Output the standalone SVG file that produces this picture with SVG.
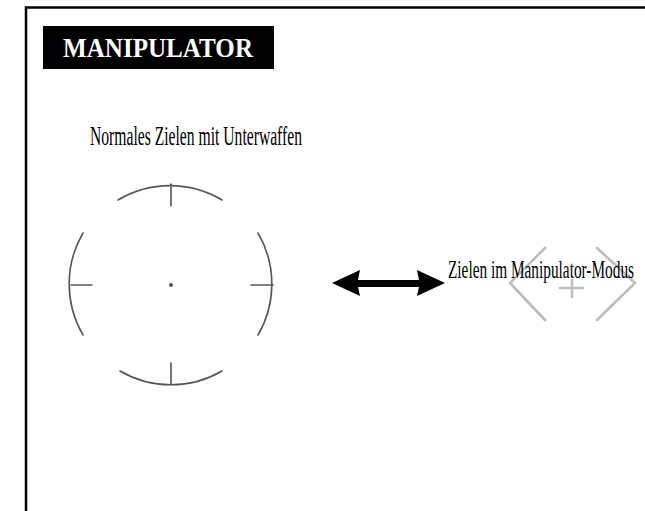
<svg xmlns="http://www.w3.org/2000/svg" width="645" height="511" viewBox="0 0 645 511">
<style>
.frame{fill:none;stroke:#000;stroke-width:2.5}
.reticle{fill:none;stroke:#555;stroke-width:1.6;stroke-linecap:round}
.reticle2{fill:none;stroke:#bdbdbd;stroke-width:2.6;stroke-linecap:round}
.lbl{font-family:"Liberation Serif","DejaVu Serif",serif;fill:#000}
.title{font-family:"Liberation Serif","DejaVu Serif",serif;font-weight:bold;fill:#fff}
</style>
<rect width="645" height="511" fill="#fff"/>
<path class="frame" d="M26,511 V7.5 H645"/>
<g id="title">
<rect x="43" y="26" width="231" height="43" fill="#000"/>
<text class="title" x="63" y="57" font-size="28" textLength="190" lengthAdjust="spacingAndGlyphs">MANIPULATOR</text>
</g>
<g id="label-normal">
<text class="lbl" x="90" y="145" font-size="27" textLength="212" lengthAdjust="spacingAndGlyphs">Normales Zielen mit Unterwaffen</text>
</g>
<g id="reticle-normal">
<path class="reticle" d="M118,200 A101,101 0 0 1 222,200 M171,184 V206"/>
<path class="reticle" d="M120,371 A101,101 0 0 0 222,371 M171,363 V385"/>
<path class="reticle" d="M83,233 A101,101 0 0 0 83,335 M71,285 H92"/>
<path class="reticle" d="M258,233 A101,101 0 0 1 258,335 M251,285 H273"/>
<circle cx="171" cy="285" r="2" fill="#555"/>
</g>
<g id="connectors">
<path d="M332,283 L360,270 L358,280 L419,280 L417,270 L445,283 L417,296 L419,287 L358,287 L360,296 Z" fill="#000"/>
</g>
<g id="reticle-manipulator">
<path class="reticle2" d="M545,248 L510,283 L545,320 M597,248 L635,283 L597,320 M560,288 H583 M572,280 V297"/>
</g>
<g id="label-manipulator">
<text class="lbl" x="448" y="278" font-size="25" textLength="186" lengthAdjust="spacingAndGlyphs">Zielen im Manipulator-Modus</text>
</g>
</svg>
